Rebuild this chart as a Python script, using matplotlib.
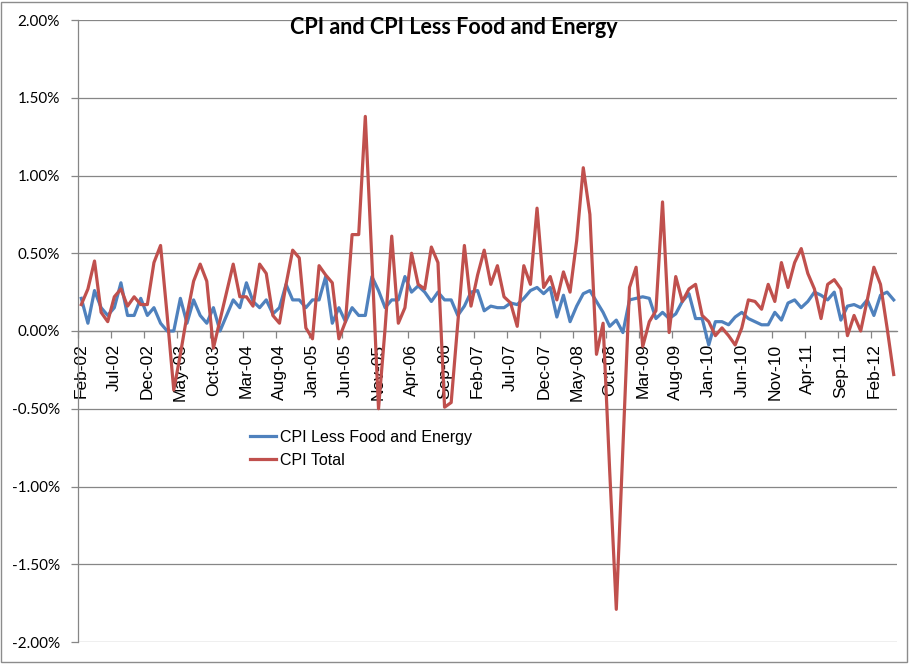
import matplotlib
matplotlib.use("Agg")
import matplotlib.pyplot as plt
from matplotlib.patches import Rectangle
import numpy as np

# Monthly percent change, Feb-2002 .. May-2012
month_labels = ["Feb-02", "Jul-02", "Dec-02", "May-03", "Oct-03", "Mar-04", "Aug-04",
                "Jan-05", "Jun-05", "Nov-05", "Apr-06", "Sep-06", "Feb-07", "Jul-07",
                "Dec-07", "May-08", "Oct-08", "Mar-09", "Aug-09", "Jan-10", "Jun-10",
                "Nov-10", "Apr-11", "Sep-11", "Feb-12"]

core = [0.21, 0.05, 0.26, 0.15, 0.10, 0.15, 0.31, 0.10, 0.10, 0.21,
        0.10, 0.15, 0.05, 0.00, 0.00, 0.21, 0.05, 0.20, 0.10, 0.05,
        0.15, 0.00, 0.10, 0.20, 0.15, 0.31, 0.19, 0.15, 0.20, 0.11,
        0.15, 0.30, 0.20, 0.20, 0.15, 0.20, 0.20, 0.35, 0.05, 0.15,
        0.06, 0.15, 0.10, 0.10, 0.35, 0.26, 0.15, 0.20, 0.20, 0.35,
        0.25, 0.29, 0.25, 0.19, 0.25, 0.20, 0.20, 0.10, 0.16, 0.25,
        0.26, 0.13, 0.16, 0.15, 0.15, 0.18, 0.17, 0.21, 0.26, 0.28,
        0.24, 0.28, 0.09, 0.23, 0.06, 0.16, 0.24, 0.26, 0.19, 0.12,
        0.03, 0.07, -0.01, 0.20, 0.21, 0.22, 0.21, 0.08, 0.12, 0.08,
        0.11, 0.19, 0.24, 0.08, 0.08, -0.09, 0.06, 0.06, 0.04, 0.09,
        0.12, 0.08, 0.06, 0.04, 0.04, 0.12, 0.07, 0.18, 0.20, 0.15,
        0.19, 0.25, 0.23, 0.20, 0.25, 0.07, 0.16, 0.17, 0.15, 0.20,
        0.10, 0.23, 0.25, 0.20]

total = [0.17, 0.27, 0.45, 0.12, 0.06, 0.22, 0.27, 0.16, 0.22, 0.17,
         0.17, 0.44, 0.55, 0.10, -0.38, -0.15, 0.10, 0.32, 0.43, 0.32,
         -0.11, 0.07, 0.25, 0.43, 0.22, 0.22, 0.16, 0.43, 0.37, 0.10,
         0.05, 0.30, 0.52, 0.47, 0.02, -0.05, 0.42, 0.36, 0.31, -0.05,
         0.06, 0.62, 0.62, 1.38, 0.45, -0.50, 0.02, 0.61, 0.05, 0.15,
         0.50, 0.30, 0.27, 0.54, 0.44, -0.49, -0.46, 0.05, 0.55, 0.16,
         0.36, 0.52, 0.30, 0.42, 0.22, 0.18, 0.03, 0.42, 0.30, 0.79,
         0.28, 0.35, 0.20, 0.38, 0.25, 0.58, 1.05, 0.75, -0.15, 0.05,
         -0.90, -1.79, -0.75, 0.28, 0.41, -0.10, 0.06, 0.13, 0.83, -0.01,
         0.35, 0.19, 0.27, 0.30, 0.10, 0.06, -0.03, 0.02, -0.03, -0.09,
         0.02, 0.20, 0.19, 0.14, 0.30, 0.19, 0.44, 0.28, 0.44, 0.53,
         0.37, 0.27, 0.08, 0.30, 0.33, 0.27, -0.03, 0.10, 0.00, 0.20,
         0.41, 0.30, 0.02, -0.28]

series_names = ["CPI Less Food and Energy", "CPI Total"]
yticks = [-2.0, -1.5, -1.0, -0.5, 0.0, 0.5, 1.0, 1.5, 2.0]

W, H = 912, 666
fig = plt.figure(figsize=(W / 100, H / 100), dpi=100)
ax = fig.add_axes([78 / W, 1 - 642 / H, (897 - 78) / W, (642 - 20) / H])

n = len(total)
x = np.arange(n)
ax.plot(x, core, color="#4F81BD", lw=2.3, solid_joinstyle="round", label=series_names[0], zorder=3)
ax.plot(x, total, color="#C0504D", lw=2.3, solid_joinstyle="round", label=series_names[1], zorder=4)

ax.set_xlim(-0.5, n - 0.5)
ax.set_ylim(-2.0, 2.0)

grid_c = "#868686"
ax.set_yticks(yticks)
ax.set_yticklabels([f"{v:.2f}%" for v in yticks], fontfamily="Lato", fontsize=11)
ax.yaxis.grid(True, color=grid_c, lw=0.9)
ax.tick_params(axis="y", length=5, width=0.9, color=grid_c, pad=8)
ax.set_axisbelow(True)

# category axis crossing at zero
ax.spines["bottom"].set_position(("data", 0))
ax.spines["bottom"].set_color(grid_c)
ax.spines["bottom"].set_linewidth(0.9)
ax.spines["left"].set_color(grid_c)
ax.spines["left"].set_linewidth(0.9)
ax.spines["top"].set_visible(False)
ax.spines["right"].set_visible(False)

step = 5
major = np.arange(0, n, step) - 0.5
ax.set_xticks(major)
ax.set_xticklabels([])
ax.tick_params(axis="x", which="major", length=5, width=0.9, color=grid_c)
ax.set_xticks(np.arange(0, len(month_labels) * step, step), minor=True)
ax.set_xticklabels(month_labels, minor=True, rotation=90, fontfamily="Liberation Sans", fontsize=12.5)
ax.tick_params(axis="x", which="minor", length=0, pad=9)

ax.legend(loc="upper left", bbox_to_anchor=(250 / W, 1 - 430 / H), bbox_transform=fig.transFigure,
          frameon=False, prop={"family": "Liberation Sans", "size": 11.5},
          handlelength=1.6, handletextpad=0.25, borderpad=0, borderaxespad=0, labelspacing=0.5)

fig.text(454 / W, 1 - 27 / H, "CPI and CPI Less Food and Energy", ha="center", va="center",
         fontfamily="Lato", fontweight="bold", fontsize=15.5)

fig.patches.append(Rectangle((1 / W, 4 / H), 906 / W, 660 / H, transform=fig.transFigure,
                             fill=False, edgecolor="#8c8c8c", lw=1.0))

fig.savefig("out.png", dpi=100)
